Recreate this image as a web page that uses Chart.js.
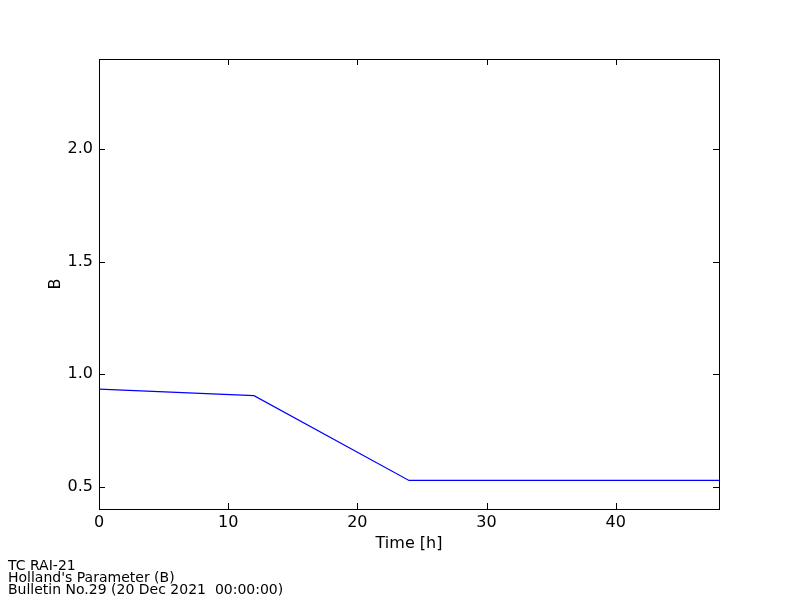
<!DOCTYPE html>
<html>
<head>
<meta charset="utf-8">
<script src="https://cdn.jsdelivr.net/npm/chart.js@4"></script>
<style>
  body { margin: 0; background: #fff; }
  #wrap { position: relative; width: 800px; height: 600px; }
  #note {
    position: absolute; left: 8px; top: 559px;
    font-family: "DejaVu Sans", sans-serif; font-size: 14px; line-height: 12px;
    color: #000; white-space: pre;
  }
</style>
</head>
<body>
<div id="wrap">
  <canvas id="myChart" width="800" height="600"></canvas>
  <div id="note">TC RAI-21
Holland's Parameter (B)
Bulletin No.29 (20 Dec 2021  00:00:00)</div>
</div>
<script>
var hours = [0, 12, 24, 36, 48];
var bValues = [0.933, 0.904, 0.527, 0.527, 0.527];
var xTicks = [0, 10, 20, 30, 40];
var yTicks = [0.5, 1.0, 1.5, 2.0];

var points = hours.map(function (h, i) {
    return { x: h, y: bValues[i] };
});

// frame + inward tick marks, like the original plot
var framePlugin = {
    id: 'frame',
    afterDraw: function (chart) {
        var ctx = chart.ctx;
        var a = chart.chartArea;
        var xs = chart.scales.x;
        var ys = chart.scales.y;
        var len = 6;
        ctx.save();
        ctx.strokeStyle = '#000';
        ctx.lineWidth = 1;
        ctx.beginPath();
        xs.ticks.forEach(function (t) {
            var px = Math.round(xs.getPixelForValue(t.value)) + 0.5;
            ctx.moveTo(px, a.bottom);
            ctx.lineTo(px, a.bottom - len);
            ctx.moveTo(px, a.top);
            ctx.lineTo(px, a.top + len);
        });
        ys.ticks.forEach(function (t) {
            var py = Math.round(ys.getPixelForValue(t.value)) + 0.5;
            ctx.moveTo(a.left, py);
            ctx.lineTo(a.left + len, py);
            ctx.moveTo(a.right, py);
            ctx.lineTo(a.right - len, py);
        });
        ctx.stroke();
        ctx.strokeRect(a.left + 0.5, a.top + 0.5, a.right - a.left, a.bottom - a.top);
        ctx.restore();
    }
};

function initGraph() {
    var data = {
        datasets: [{
            label: 'B',
            data: points,
            borderColor: '#0000ff',
            borderWidth: 1.2,
            pointRadius: 0,
            tension: 0,
            fill: false
        }]
    };
    var config = {
        type: 'line',
        data: data,
        plugins: [framePlugin],
        options: {
            responsive: false,
            animation: false,
            layout: { padding: { left: 0, top: 59, right: 81, bottom: 0 } },
            plugins: {
                legend: { display: false },
                tooltip: { enabled: false }
            },
            scales: {
                x: {
                    type: 'linear',
                    min: 0,
                    max: 48,
                    grid: { display: false, drawTicks: false },
                    border: { display: false },
                    afterBuildTicks: function (scale) {
                        scale.ticks = xTicks.map(function (v) { return { value: v }; });
                    },
                    afterFit: function (scale) { scale.height = 91; },
                    ticks: {
                        padding: 4,
                        color: '#000',
                        maxRotation: 0,
                        font: { family: 'DejaVu Sans', size: 16 }
                    },
                    title: {
                        display: true,
                        text: 'Time [h]',
                        color: '#000',
                        font: { family: 'DejaVu Sans', size: 16 },
                        padding: { top: 0, bottom: 47 }
                    }
                },
                y: {
                    type: 'linear',
                    min: 0.4,
                    max: 2.4,
                    grid: { display: false, drawTicks: false },
                    border: { display: false },
                    afterBuildTicks: function (scale) {
                        scale.ticks = yTicks.map(function (v) { return { value: v }; });
                    },
                    afterFit: function (scale) { scale.width = 99; },
                    ticks: {
                        padding: 6,
                        color: '#000',
                        font: { family: 'DejaVu Sans', size: 16 },
                        callback: function (v) { return Number(v).toFixed(1); }
                    },
                    title: {
                        display: true,
                        text: 'B',
                        color: '#000',
                        font: { family: 'DejaVu Sans', size: 16 },
                        padding: { top: 46, bottom: 0 }
                    }
                }
            }
        }
    };
    new Chart(document.getElementById('myChart'), config);
}

initGraph();
</script>
</body>
</html>
